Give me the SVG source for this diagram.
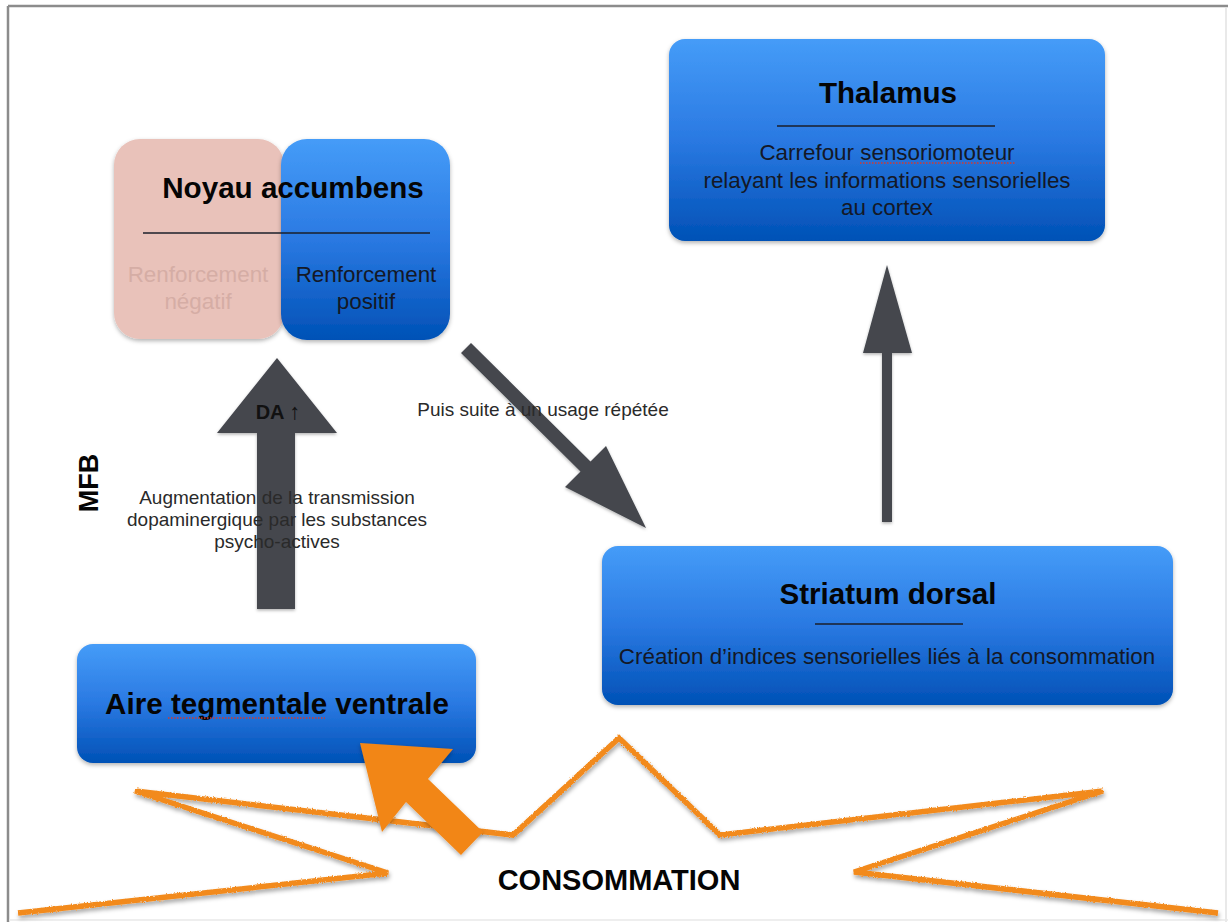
<svg xmlns="http://www.w3.org/2000/svg" width="1228" height="922" viewBox="0 0 1228 922">
<style>
  text { font-family: "Liberation Sans", Arial, Helvetica, sans-serif; }
  .title { font-size: 29.6px; font-weight: bold; fill: #050505; text-anchor: middle; }
  .body { font-size: 22.4px; fill: #141826; text-anchor: middle; }
  .label { font-size: 19px; fill: #2a2a2a; text-anchor: middle; }
  .box { fill: url(#blue); filter: url(#sh); }
  .rule { stroke: #1b1f2a; stroke-width: 1.6; }
  .arrow { fill: #44474d; filter: url(#sh2); }
  .spell { stroke: #d23a30; stroke-width: 1.4; stroke-dasharray: 1.5 1.5; fill: none; }
</style>
<defs>
  <linearGradient id="blue" x1="0" y1="0" x2="0" y2="1">
    <stop offset="0" stop-color="#459cf8"/>
    <stop offset="0.5" stop-color="#2a79e2"/>
    <stop offset="1" stop-color="#0051b6"/>
  </linearGradient>
  <filter id="sh" x="-10%" y="-10%" width="120%" height="130%">
    <feDropShadow dx="0" dy="2" stdDeviation="2" flood-color="#000" flood-opacity="0.3"/>
  </filter>
  <filter id="sh2" x="-20%" y="-20%" width="140%" height="140%">
    <feDropShadow dx="0" dy="1.5" stdDeviation="1.5" flood-color="#000" flood-opacity="0.3"/>
  </filter>
  <filter id="rough" x="-5%" y="-20%" width="110%" height="140%">
    <feTurbulence type="fractalNoise" baseFrequency="0.8" numOctaves="1" seed="3" result="n"/>
    <feDisplacementMap in="SourceGraphic" in2="n" scale="3" xChannelSelector="R" yChannelSelector="G" result="d"/>
    <feDropShadow in="d" dx="1" dy="3" stdDeviation="2" flood-color="#000" flood-opacity="0.35"/>
  </filter>
</defs>

<rect x="0" y="0" width="1228" height="922" fill="#ffffff"/>
<g id="frame">
  <line x1="8" y1="6" x2="1228" y2="6" stroke="#8c8c8c" stroke-width="2.5"/>
  <line x1="8" y1="6" x2="8" y2="922" stroke="#8c8c8c" stroke-width="2.5"/>
  <line x1="1226" y1="7" x2="1226" y2="922" stroke="#e2e2e2" stroke-width="1.5"/>
  <line x1="9" y1="920" x2="1228" y2="920" stroke="#e8e8e8" stroke-width="1.5"/>
</g>

<g id="consommation">
  <polyline points="18,913 388,873 135,791 513,835 619,738 720,835 1103,791 854,872 1218,913" fill="none" stroke="#f28a1c" stroke-width="5.5" stroke-linejoin="miter" filter="url(#rough)"/>
  <text x="619" y="890" style="font-size:29px;font-weight:bold;fill:#050505;text-anchor:middle">CONSOMMATION</text>
</g>

<g id="noyau-accumbens">
  <rect x="114" y="139" width="170" height="200" rx="26" fill="#e9c2ba" filter="url(#sh)"/>
  <rect x="281" y="139" width="169" height="201" rx="26" class="box"/>
  <text x="293" y="198" class="title">Noyau accumbens</text>
  <line x1="143" y1="233" x2="430" y2="233" class="rule"/>
  <text x="198" y="282" class="body" style="fill:#d5ada5">Renforcement</text>
  <text x="198" y="309" class="body" style="fill:#d5ada5">négatif</text>
  <text x="366" y="282" class="body">Renforcement</text>
  <text x="366" y="309" class="body">positif</text>
</g>

<g id="thalamus">
  <rect x="669" y="39" width="436" height="202" rx="16" class="box"/>
  <text x="888" y="103" class="title">Thalamus</text>
  <line x1="777" y1="126" x2="995" y2="126" class="rule"/>
  <text x="887" y="160" class="body">Carrefour sensoriomoteur</text>
  <line x1="860" y1="163" x2="1015" y2="163" class="spell"/>
  <text x="887" y="188" class="body">relayant les informations sensorielles</text>
  <text x="887" y="215" class="body">au cortex</text>
</g>

<g id="striatum-dorsal">
  <rect x="602" y="546" width="571" height="159" rx="16" class="box"/>
  <text x="888" y="604" class="title">Striatum dorsal</text>
  <line x1="815" y1="624" x2="963" y2="624" class="rule"/>
  <text x="887" y="664" class="body">Création d’indices sensorielles liés à la consommation</text>
</g>

<g id="aire-tegmentale-ventrale">
  <rect x="77" y="644" width="399" height="119" rx="16" class="box"/>
  <text x="277" y="714" class="title">Aire tegmentale ventrale</text>
  <line x1="168" y1="718" x2="325" y2="718" class="spell"/>
</g>

<g id="connectors">
  <polygon class="arrow" points="257,609 257,433 217,433 277,358 337,433 295,433 295,609"/>
  <polygon class="arrow" points="882,522 882,353 863,353 887,265 912,353 892,353 892,522"/>
  <polygon class="arrow" points="471,343 590.5,461.5 606,446 646,528 565,487 580.5,471.5 461,353"/>
  <polygon points="360,743 453,749 428,779 483,832 461,855 406,802 382,832" fill="#f28617" filter="url(#sh)"/>
</g>

<g id="labels">
  <text x="278" y="419" style="font-size:20px;font-weight:bold;fill:#111;text-anchor:middle">DA <tspan style="font-weight:normal;font-size:22px">↑</tspan></text>
  <text transform="translate(98,483) rotate(-90)" style="font-size:27px;font-weight:bold;fill:#050505;text-anchor:middle">MFB</text>
  <text x="277" y="504" class="label">Augmentation de la transmission</text>
  <text x="277" y="526" class="label">dopaminergique par les substances</text>
  <text x="277" y="548" class="label">psycho-actives</text>
  <text x="543" y="416" class="label">Puis suite à un usage répétée</text>
</g>
</svg>
